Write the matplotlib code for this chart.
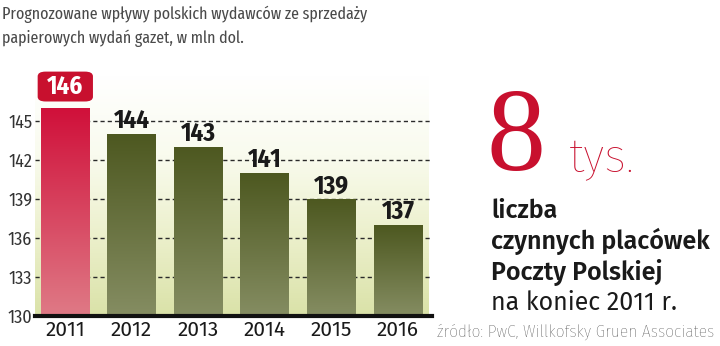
import numpy as np
import matplotlib
matplotlib.use('Agg')
import matplotlib.pyplot as plt
from matplotlib.colors import LinearSegmentedColormap
from matplotlib.patches import FancyBboxPatch

# data
years = ['2011', '2012', '2013', '2014', '2015', '2016']
values = [146, 144, 143, 141, 139, 137]
y_ticks = [130, 133, 136, 139, 142, 145]

title = 'Prognozowane wpływy polskich wydawców ze sprzedaży\npapierowych wydań gazet, w mln dol.'
side_lines = ['liczba', 'czynnych placówek', 'Poczty Polskiej']
side_last = 'na koniec 2011 r.'
source = 'źródło: PwC, Willkofsky Gruen Associates'

red = '#c8102e'
cond = ['Fira Sans Condensed', 'DejaVu Sans']
xcond = ['Fira Sans Extra Condensed', 'DejaVu Sans']
fira = ['Fira Sans', 'DejaVu Sans']

fig = plt.figure(figsize=(7.2, 3.46), dpi=100)
ax = fig.add_axes([35/720, 30/346, 397/720, 240.5/346])
ymin, ymax = 130, 148.5
xmin, xmax = -0.45, 5.51
ax.set_xlim(xmin, xmax)
ax.set_ylim(ymin, ymax)

# background gradient (light olive at bottom -> white at top)
bg = LinearSegmentedColormap.from_list('bg', ['#dae2a8', '#ecf0cc', '#f9fbee', '#ffffff'])
grad = np.linspace(0, 1, 256).reshape(-1, 1)
ax.imshow(grad, cmap=bg, origin='lower', aspect='auto',
          extent=[xmin, 5.45, ymin, ymax], zorder=0)

# dashed grid
for t in y_ticks[1:]:
    ax.axhline(t, color='#2a2a2a', lw=1.0, ls=(0, (3, 2.2)), zorder=1)

# bars with vertical gradients
red_cm = LinearSegmentedColormap.from_list('r', ['#df7a86', '#d0103a'])
olive_cm = LinearSegmentedColormap.from_list('o', ['#858d62', '#4d5820'])
x = np.arange(len(years))
bars = ax.bar(x, [v - ymin for v in values], bottom=ymin, width=0.73,
              color='none', edgecolor='none', zorder=2)
for i, b in enumerate(bars):
    cm = red_cm if i == 0 else olive_cm
    im = ax.imshow(grad, cmap=cm, origin='lower', aspect='auto',
                   extent=[b.get_x(), b.get_x() + b.get_width(), ymin, values[i]],
                   zorder=2)
    im.set_clip_path(b)

# value labels
for i, v in enumerate(values):
    if i == 0:
        ax.text(x[i], v + 1.65, str(v), ha='center', va='center', color='white',
                fontsize=18, fontweight='bold', family=cond, zorder=5, clip_on=False)
        box = FancyBboxPatch((x[i] - 0.41, v + 0.5), 0.83, 2.3,
                             boxstyle='round,pad=0,rounding_size=0.12',
                             mutation_aspect=3, fc=red, ec='none',
                             zorder=4, clip_on=False)
        ax.add_patch(box)
    else:
        ax.text(x[i], v + 0.05, str(v), ha='center', va='bottom', color='#1a1a1a',
                fontsize=18, fontweight='bold', family=cond, zorder=5)

ax.set_xticks(x)
ax.set_xticklabels(years, fontsize=15, color='#1a1a1a', family=fira)
ax.set_yticks(y_ticks)
ax.set_yticklabels([str(t) for t in y_ticks], fontsize=13, color='#333333',
                   family=cond)
ax.tick_params(length=0, pad=2)
ax.tick_params(axis='x', pad=3)
for s in ['top', 'right', 'left']:
    ax.spines[s].set_visible(False)
ax.spines['bottom'].set_linewidth(3)
ax.spines['bottom'].set_color('#111111')
ax.spines['bottom'].set_zorder(6)

# title
fig.text(0.003, 1 - 19/346, title.split('\n')[0], ha='left', va='baseline', fontsize=12.5,
         color='#4a4a4a', family=xcond)
fig.text(0.003, 1 - 43/346, title.split('\n')[1], ha='left', va='baseline', fontsize=12.5,
         color='#4a4a4a', family=xcond)

# right side
fig.text(486/720, 1 - 170/346, '8', ha='left', va='baseline', fontsize=85,
         color=red, family='Liberation Serif')
fig.text(569/720, 1 - 172/346, 'tys.', ha='left', va='baseline', fontsize=34,
         color=red, family=fira, fontweight='light')
for k, line in enumerate(side_lines):
    fig.text(491/720, 1 - (218 + 31 * k)/346, line, ha='left', va='baseline',
             fontsize=18, fontweight='semibold', color='#1a1a1a', family=fira)
fig.text(491/720, 1 - 310/346, side_last, ha='left', va='baseline',
         fontsize=18, color='#1a1a1a', family=fira)
fig.text(437/720, 1 - 337/346, source, ha='left', va='baseline',
         fontsize=12.5, color='#444444', family=cond, fontweight='light')

fig.savefig('out.png', dpi=100)
